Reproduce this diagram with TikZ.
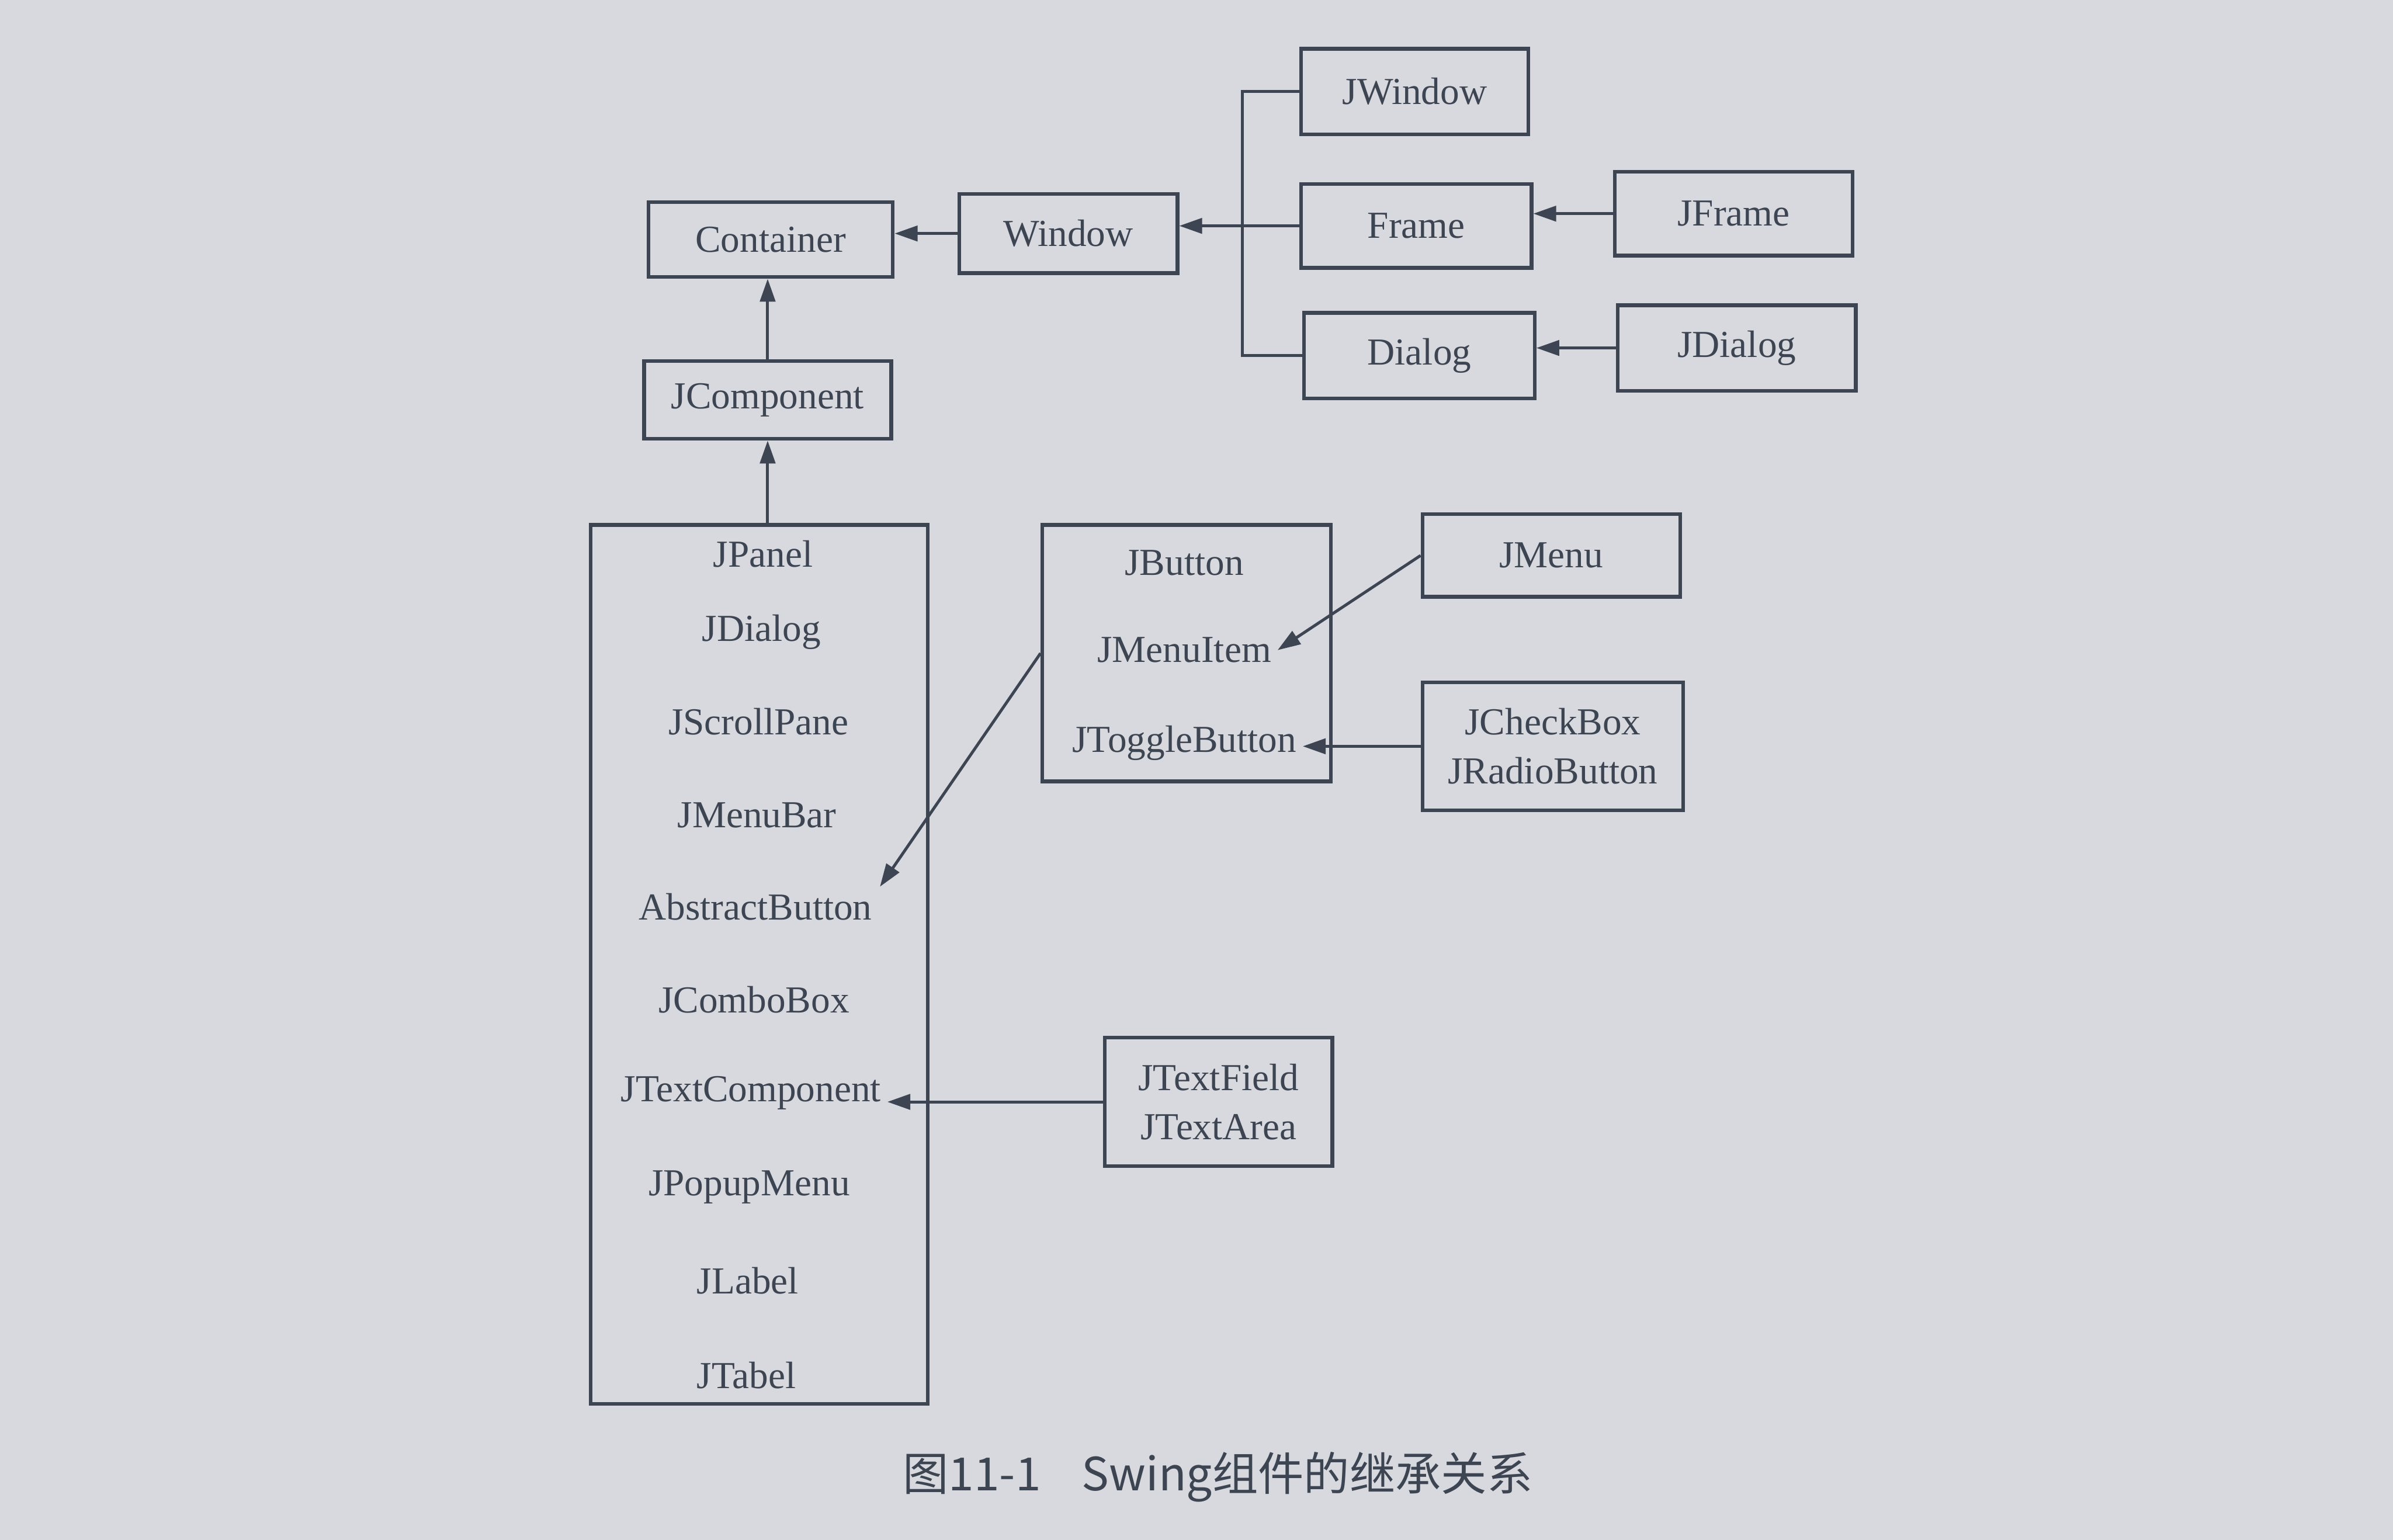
\documentclass[tikz,border=0pt]{standalone}
\usepackage{fontspec}
\setmainfont{Liberation Serif}
\newfontfamily\cjk{Noto Sans CJK SC}
\usetikzlibrary{arrows.meta}
\definecolor{ink}{RGB}{62,69,82}
\definecolor{paper}{RGB}{215,217,222}
\tikzset{
  box/.style={draw=ink, line width=2.4pt, inner sep=0pt, align=center, text=ink},
  lbl/.style={inner sep=0pt, text=ink},
  link/.style={draw=ink, line width=1.9pt},
  arr/.style={link, -{Triangle[length=15pt,width=10pt]}},
}
\begin{document}
\begin{tikzpicture}[x=1pt,y=-1pt, font=\fontsize{25}{32}\selectfont]
\useasboundingbox (0,0) rectangle (1568,1009);
\fill[paper] (0,0) rectangle (1568,1009);

% top part
\node[box, minimum width=160, minimum height=49] (container) at (505,157) {Container};
\node[box, minimum width=143, minimum height=52] (window) at (700,153) {Window};
\node[box, minimum width=149, minimum height=56] (jwindow) at (927,60) {JWindow};
\node[box, minimum width=151, minimum height=55] (frame) at (928,148) {Frame};
\node[box, minimum width=151, minimum height=56] (dialog) at (930,233) {Dialog};
\node[box, minimum width=156, minimum height=55] (jframe) at (1136,140) {JFrame};
\node[box, minimum width=156, minimum height=56] (jdialog) at (1138,228) {JDialog};
\node[box, minimum width=162, minimum height=51] (jcomp) at (503,262) {JComponent};
\coordinate (trunk) at (814,0);

\draw[link] (jwindow.west) -- (jwindow.west -| trunk) -- (dialog.west -| trunk) -- (dialog.west);
\draw[arr] (frame.west) -- (window.east |- frame.west);
\draw[arr] (window.west) -- (container.east |- window.west);
\draw[arr] (jframe.west) -- (frame.east |- jframe.west);
\draw[arr] (jdialog.west) -- (dialog.east |- jdialog.west);
\draw[arr] (jcomp.north) -- (container.south -| jcomp.north);

% big box
\node[box, minimum width=221, minimum height=576] (big) at (497.5,632) {};
\node[lbl] (jpanel) at (500,363) {JPanel};
\node[lbl] (jdlg2) at (499,414) {JDialog};
\node[lbl] (jscroll) at (497,473) {JScrollPane};
\node[lbl] (jmenubar) at (496,534) {JMenuBar};
\node[lbl] (absb) at (495,594) {AbstractButton};
\node[lbl] (jcombo) at (494,655) {JComboBox};
\node[lbl] (jtextc) at (492,716) {JTextComponent};
\node[lbl] (jpopup) at (491,778) {JPopupMenu};
\node[lbl] (jlabel) at (490,839) {JLabel};
\node[lbl] (jtabel) at (489,901) {JTabel};
\draw[arr] (big.north -| jcomp.south) -- (jcomp.south);

% button box
\node[box, minimum width=189, minimum height=168] (btnbox) at (777.5,428) {};
\node[lbl] (jbutton) at (776,369) {JButton};
\node[lbl] (jmenuitem) at (776,426) {JMenuItem};
\node[lbl] (jtoggle) at (776,487) {JToggleButton};
\draw[arr] (btnbox.west) -- ([xshift=5pt,yshift=4pt]absb.north east);

\node[box, minimum width=169, minimum height=54] (jmenu) at (1016.5,364) {JMenu};
\draw[arr] (jmenu.west) -- ([xshift=4pt]jmenuitem.east);

\node[box, minimum width=171, minimum height=84] (chk) at (1017.5,489) {JCheckBox\\JRadioButton};
\draw[arr] (chk.west) -- ([xshift=4pt]jtoggle.east |- chk.west);

\node[box, minimum width=149, minimum height=84] (tf) at (798.5,722) {JTextField\\JTextArea};
\draw[arr] (tf.west) -- ([xshift=4pt]jtextc.east |- tf.west);

% caption
\node[lbl, font=\cjk\fontsize{30}{34}\selectfont] (caption) at (798,968) {图11-1\hspace{0.9em}Swing组件的继承关系};
\end{tikzpicture}
\end{document}
